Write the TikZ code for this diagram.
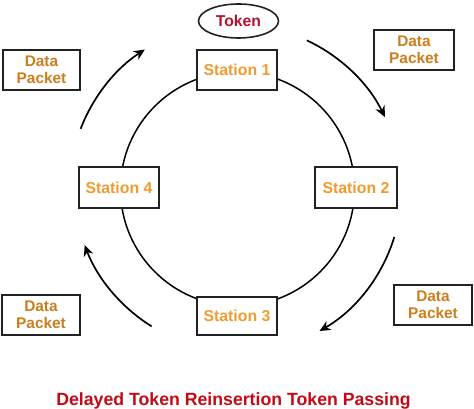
\documentclass[tikz,border=0pt]{standalone}
\usepackage{fontspec}
\setmainfont{Liberation Sans}
\usetikzlibrary{shapes.geometric,arrows.meta}
\definecolor{stn}{HTML}{F29A2E}
\definecolor{pkt}{HTML}{CC7E1C}
\definecolor{tok}{HTML}{B3122E}
\definecolor{ttl}{HTML}{C40A14}
\definecolor{edge}{HTML}{222222}
\begin{document}
\begin{tikzpicture}[x=1pt,y=1pt,
  stationbox/.style={draw=edge,line width=1.8pt,fill=white,inner sep=0pt,
    text=stn,font=\bfseries\fontsize{15.8}{17}\selectfont},
  packetbox/.style={draw=edge,line width=1.8pt,fill=white,inner sep=0pt,
    text=pkt,align=center,font=\bfseries\fontsize{15.4}{17}\selectfont},
  ring/.style={draw=black,line width=1.5pt,circle,inner sep=0pt,minimum size=234pt},
  flow/.style={draw=black,line width=1.7pt,-{Stealth[length=11pt,width=10pt]}}]
\useasboundingbox (0,0) rectangle (474,409);
\coordinate (c) at (237.5,220);
\node[ring] (loop) at (c) {};
\node[stationbox,minimum width=80pt,minimum height=40pt] (s1) at (237,339) {Station 1};
\node[stationbox,minimum width=82pt,minimum height=41pt] (s2) at (356,221.5) {Station 2};
\node[stationbox,minimum width=80pt,minimum height=38pt] (s3) at (237,93) {Station 3};
\node[stationbox,minimum width=80pt,minimum height=41pt] (s4) at (119,221.5) {Station 4};
\node[draw=edge,line width=1.6pt,ellipse,minimum width=80pt,minimum height=34pt,inner sep=0pt,
  text=tok,font=\bfseries\fontsize{15.7}{17}\selectfont] (token) at (238.5,388) {Token};
\node[packetbox,minimum width=77pt,minimum height=40pt] (dp1) at (41.5,339) {Data\\Packet};
\node[packetbox,minimum width=80pt,minimum height=40pt] (dp2) at (414,359) {Data\\Packet};
\node[packetbox,minimum width=78pt,minimum height=40pt] (dp3) at (41,94) {Data\\Packet};
\node[packetbox,minimum width=78pt,minimum height=40pt] (dp4) at (433,104) {Data\\Packet};
\draw[flow] ([shift={(65:164)}]c) arc[start angle=65,end angle=26,radius=164];
\draw[flow] ([shift={(-17:164)}]c) arc[start angle=-17,end angle=-60,radius=164];
\draw[flow] ([shift={(238:162)}]c) arc[start angle=238,end angle=201,radius=166];
\draw[flow] ([shift={(159:168)}]c) arc[start angle=159,end angle=123,radius=165];
\node[anchor=base,text=ttl,font=\bfseries\fontsize{17.7}{20}\selectfont,inner sep=0pt] (title) at (233.5,3.5) {Delayed Token Reinsertion Token Passing};
\end{tikzpicture}
\end{document}
